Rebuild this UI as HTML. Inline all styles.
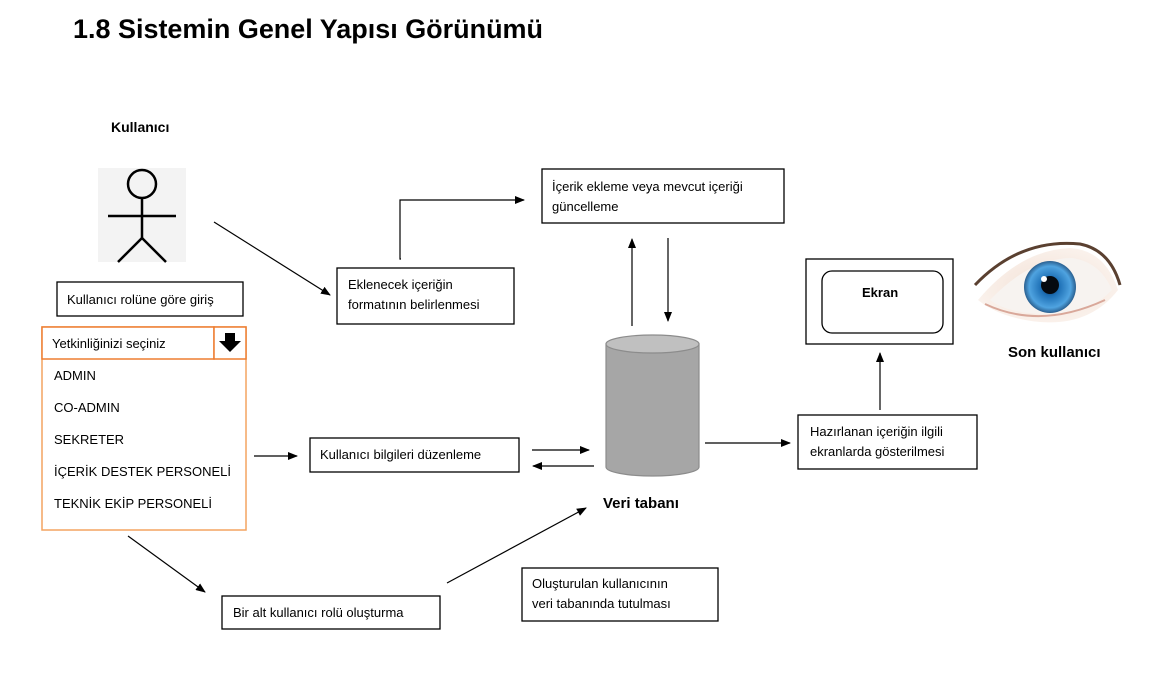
<!DOCTYPE html>
<html><head><meta charset="utf-8"><style>
html,body{margin:0;padding:0;background:#fff;}
svg{display:block;font-family:"Liberation Sans",sans-serif;}
</style></head><body>
<svg width="1171" height="675" viewBox="0 0 1171 675" xmlns="http://www.w3.org/2000/svg">
<defs>
<marker id="a" markerWidth="10" markerHeight="8" refX="9" refY="4" orient="auto" markerUnits="userSpaceOnUse"><path d="M0,0 L10,4 L0,8 Z" fill="#000"/></marker>
<radialGradient id="iris" cx="50%" cy="50%" r="50%"><stop offset="0" stop-color="#0a2a4a"/><stop offset="0.35" stop-color="#1d6fb5"/><stop offset="0.8" stop-color="#4fa3e0"/><stop offset="1" stop-color="#2a5f8f"/></radialGradient>
<radialGradient id="skin" cx="50%" cy="50%" r="60%"><stop offset="0" stop-color="#f3e1d6"/><stop offset="1" stop-color="#fbf4ef"/></radialGradient>
</defs>
<text x="73" y="38" font-size="26.5" font-weight="bold" textLength="470" lengthAdjust="spacingAndGlyphs">1.8 Sistemin Genel Yapısı Görünümü</text>
<text x="111" y="132" font-size="14" font-weight="bold">Kullanıcı</text>
<rect x="98" y="168" width="88" height="94" fill="#f3f3f3"/>
<g stroke="#000" stroke-width="2.5" fill="none">
<circle cx="142" cy="184" r="14"/>
<line x1="142" y1="198" x2="142" y2="238"/>
<line x1="108" y1="216" x2="176" y2="216"/>
<line x1="142" y1="238" x2="118" y2="262"/>
<line x1="142" y1="238" x2="166" y2="262"/>
</g>
<g stroke="#000" stroke-width="1.3" fill="#fff">
<rect x="57" y="282" width="186" height="34"/>
<rect x="337" y="268" width="177" height="56"/>
<rect x="542" y="169" width="242" height="54"/>
<rect x="310" y="438" width="209" height="34"/>
<rect x="798" y="415" width="179" height="54"/>
<rect x="806" y="259" width="147" height="85"/>
<rect x="822" y="271" width="121" height="62" rx="10"/>
<rect x="222" y="596" width="218" height="33"/>
<rect x="522" y="568" width="196" height="53"/>
</g>
<g font-size="13" fill="#000">
<text x="67" y="304">Kullanıcı rolüne göre giriş</text>
<text x="348" y="289">Eklenecek içeriğin</text>
<text x="348" y="309">formatının belirlenmesi</text>
<text x="552" y="191">İçerik ekleme veya mevcut içeriği</text>
<text x="552" y="211">güncelleme</text>
<text x="320" y="459">Kullanıcı bilgileri düzenleme</text>
<text x="810" y="436">Hazırlanan içeriğin ilgili</text>
<text x="810" y="456">ekranlarda gösterilmesi</text>
<text x="233" y="617">Bir alt kullanıcı rolü oluşturma</text>
<text x="532" y="588">Oluşturulan kullanıcının</text>
<text x="532" y="608">veri tabanında tutulması</text>
<text x="862" y="297" font-weight="bold">Ekran</text>
</g>
<rect x="42" y="327" width="204" height="203" fill="#fff" stroke="#f4a460" stroke-width="1.5"/>
<rect x="42" y="327" width="172" height="32" fill="#fff" stroke="#ed7d31" stroke-width="1.5"/>
<rect x="214" y="327" width="32" height="32" fill="#fff" stroke="#ed7d31" stroke-width="1.5"/>
<path d="M225,333 h10 v8 h6 l-11,11 l-11,-11 h6 z" fill="#000"/>
<g font-size="13">
<text x="52" y="348">Yetkinliğinizi seçiniz</text>
<text x="54" y="380">ADMIN</text>
<text x="54" y="412">CO-ADMIN</text>
<text x="54" y="444">SEKRETER</text>
<text x="54" y="476">İÇERİK DESTEK PERSONELİ</text>
<text x="54" y="508">TEKNİK EKİP PERSONELİ</text>
</g>
<path d="M606,344 v123 a46.5,9 0 0 0 93,0 v-123 z" fill="#a6a6a6" stroke="#8c8c8c" stroke-width="1.2"/>
<ellipse cx="652.5" cy="344" rx="46.5" ry="9" fill="#c0c0c0" stroke="#8c8c8c" stroke-width="1.2"/>
<text x="603" y="508" font-size="15" font-weight="bold">Veri tabanı</text>
<g>
<path d="M978,300 Q1020,250 1070,248 Q1105,250 1118,290 Q1090,326 1040,322 Q1000,318 978,300 Z" fill="url(#skin)"/>
<path d="M990,300 Q1030,258 1072,258 Q1100,262 1112,290 Q1085,318 1040,314 Q1005,312 990,300 Z" fill="#f7f3f0"/>
<circle cx="1050" cy="287" r="26" fill="url(#iris)"/>
<circle cx="1050" cy="285" r="9" fill="#050a10"/>
<circle cx="1044" cy="279" r="3" fill="#fff"/>
<path d="M975,285 Q1020,238 1080,244 Q1110,250 1120,285" fill="none" stroke="#5a4030" stroke-width="3"/>
<path d="M985,304 Q1040,330 1105,300" fill="none" stroke="#d9a89a" stroke-width="2"/>
</g>
<text x="1008" y="357" font-size="15" font-weight="bold">Son kullanıcı</text>
<g stroke="#000" stroke-width="1.2" fill="none" marker-end="url(#a)">
<line x1="214" y1="222" x2="330" y2="295"/>
<polyline points="401,259 400,259 400,200 524,200"/>
<line x1="632" y1="326" x2="632" y2="239"/>
<line x1="668" y1="238" x2="668" y2="321"/>
<line x1="254" y1="456" x2="297" y2="456"/>
<line x1="532" y1="450" x2="589" y2="450"/>
<line x1="594" y1="466" x2="533" y2="466"/>
<line x1="705" y1="443" x2="790" y2="443"/>
<line x1="880" y1="410" x2="880" y2="353"/>
<line x1="128" y1="536" x2="205" y2="592"/>
<line x1="447" y1="583" x2="586" y2="508"/>
</g>
</svg>
</body></html>
